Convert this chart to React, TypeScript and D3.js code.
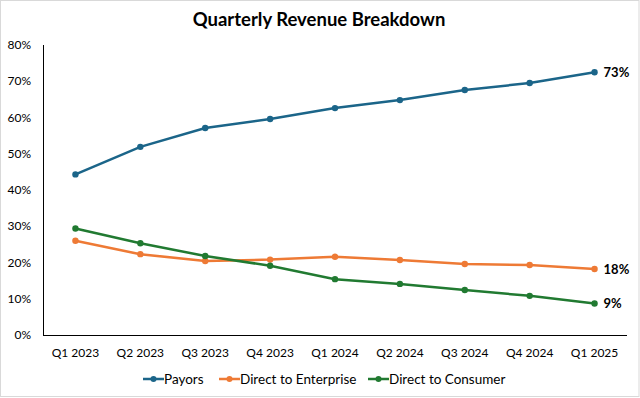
import React from "react";
import * as d3 from "d3";

const categories = ["Q1 2023", "Q2 2023", "Q3 2023", "Q4 2023", "Q1 2024", "Q2 2024", "Q3 2024", "Q4 2024", "Q1 2025"];
const payors = [44.3, 51.9, 57.1, 59.6, 62.6, 64.8, 67.6, 69.5, 72.5];
const enterprise = [26.0, 22.3, 20.4, 20.8, 21.6, 20.7, 19.6, 19.3, 18.2];
const consumer = [29.4, 25.3, 21.8, 19.1, 15.4, 14.1, 12.4, 10.8, 8.7];
const yTicks = [0, 10, 20, 30, 40, 50, 60, 70, 80];
const endLabels = ["73%", "18%", "9%"];
const seriesNames = ["Payors", "Direct to Enterprise", "Direct to Consumer"];
const seriesColors = ["#1b6589", "#ee7a35", "#217a31"];

const W = 640;
const H = 398;
const font = "Lato, 'Open Sans', sans-serif";

export default function App() {
  const x = d3.scaleBand<string>().domain(categories).range([43, 627]);
  const y = d3.scaleLinear().domain([0, 80]).range([335, 45]);
  const cx = (c: string) => (x(c) as number) + x.bandwidth() / 2;
  const line = d3
    .line<number>()
    .x((_, i) => cx(categories[i]))
    .y((d) => y(d));
  const series = [payors, enterprise, consumer];
  const legendX = [143, 219, 368];

  return (
    <div style={{ position: "absolute", left: 0, top: 0 }}>
      <svg width={W} height={H} style={{ display: "block", fontFamily: font }}>
        <rect x={0} y={0} width={W} height={H} fill="#fff" />
        <rect x={0.5} y={0.5} width={638.5} height={396} fill="none" stroke="#d9d9d9" />
        <text x={319} y={26} textAnchor="middle" fontSize={18.5} fontWeight="bold" fill="#000">
          Quarterly Revenue Breakdown
        </text>
        {yTicks.map((t) => (
          <text key={t} x={31} y={y(t) + 4} textAnchor="end" fontSize={12} fill="#000">
            {t}%
          </text>
        ))}
        <line x1={43.5} x2={43.5} y1={y(80)} y2={y(0)} stroke="#000" strokeWidth={1} />
        <line x1={43} x2={627} y1={y(0) + 0.5} y2={y(0) + 0.5} stroke="#000" strokeWidth={1} />
        {categories.map((c) => (
          <text key={c} x={cx(c)} y={357} textAnchor="middle" fontSize={12} fill="#000">
            {c}
          </text>
        ))}
        {series.map((s, si) => (
          <g key={si}>
            <path d={line(s) as string} fill="none" stroke={seriesColors[si]} strokeWidth={2.5} />
            {s.map((v, i) => (
              <circle key={i} cx={cx(categories[i])} cy={y(v)} r={3.2} fill={seriesColors[si]} />
            ))}
            <text
              x={cx(categories[8]) + 9}
              y={y(s[8]) + 5}
              fontSize={13}
              fontWeight="bold"
              fill="#000"
            >
              {endLabels[si]}
            </text>
          </g>
        ))}
        {seriesNames.map((n, i) => (
          <g key={n}>
            <line x1={legendX[i]} x2={legendX[i] + 21} y1={379} y2={379} stroke={seriesColors[i]} strokeWidth={2.5} />
            <circle cx={legendX[i] + 10.5} cy={379} r={3} fill={seriesColors[i]} />
            <text x={legendX[i] + 21} y={383.5} fontSize={13.5} fill="#000">
              {n}
            </text>
          </g>
        ))}
      </svg>
    </div>
  );
}
